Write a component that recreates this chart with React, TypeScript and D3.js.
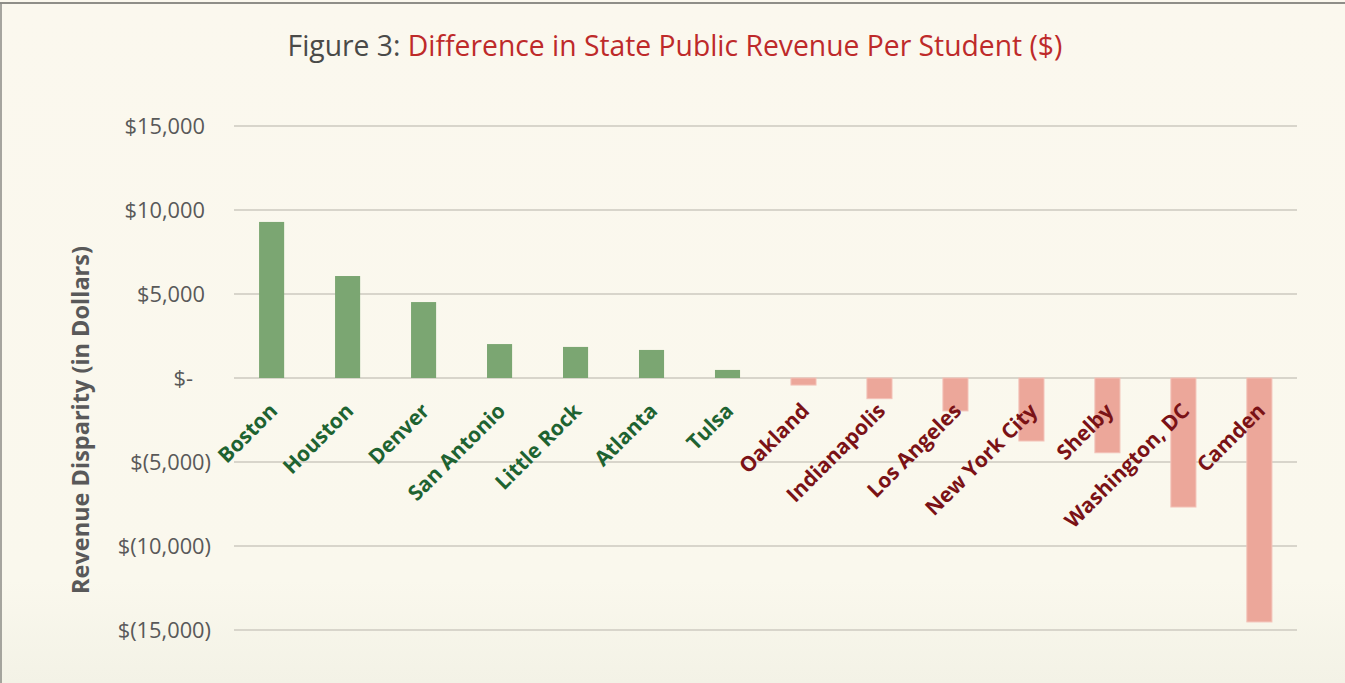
import React from "react";
import * as d3 from "d3";

const cities = ["Boston","Houston","Denver","San Antonio","Little Rock","Atlanta","Tulsa","Oakland","Indianapolis","Los Angeles","New York City","Shelby","Washington, DC","Camden"];
const disparity = [9290,6070,4520,2020,1850,1670,480,-420,-1230,-1960,-3750,-4450,-7680,-14520];
const yTicks = [15000,10000,5000,0,-5000,-10000,-15000];

const W = 1345, H = 683;
const M = { left: 234, right: 1297, top: 126, bottom: 630 };

function fmt(v: number) {
  if (v === 0) return "$-";
  const s = d3.format(",")(Math.abs(v));
  return v < 0 ? `$(${s})` : `$${s}`;
}

export default function App() {
  const x = d3.scaleBand<string>().domain(cities).range([M.left, M.right]).paddingInner(0.67).paddingOuter(0.33);
  const y = d3.scaleLinear().domain([-15000, 15000]).range([M.bottom, M.top]);
  const font = "'Open Sans', 'Noto Sans', sans-serif";
  return (
    <svg width={W} height={H} style={{ position: "absolute", left: 0, top: 0 }} fontFamily={font}>
      <defs>
        <linearGradient id="bg" x1="0" y1="0" x2="0" y2="1">
          <stop offset="0" stopColor="#FBF8EE" />
          <stop offset="0.85" stopColor="#FAF8ED" />
          <stop offset="1" stopColor="#F3F2E6" />
        </linearGradient>
      </defs>
      <rect x={0} y={0} width={W} height={H} fill="url(#bg)" />
      <line x1={0} x2={W} y1={3} y2={3} stroke="#6b6b66" strokeWidth={1.5} />
      <line x1={1} x2={1} y1={3} y2={H} stroke="#8a8a84" strokeWidth={1.5} />
      <text x={675} y={56} textAnchor="middle" fontSize={28.3} fill="#4a4a48">
        <tspan fill="#4a4a48">Figure 3: </tspan>
        <tspan fill="#BE2A2A">Difference in State Public Revenue Per Student ($)</tspan>
      </text>
      {yTicks.map(t => (
        <g key={t}>
          <line x1={M.left} x2={M.right} y1={y(t)} y2={y(t)} stroke="#D8D5CB" strokeWidth={2} />
          <text x={t === 0 ? 193 : t > 0 ? 205 : 211} y={y(t)} dy="0.35em" textAnchor="end" fontSize={21.8} fill="#595959">{fmt(t)}</text>
        </g>
      ))}
      {cities.map((c, i) => {
        const v = disparity[i];
        const pos = v >= 0;
        return (
          <rect key={c} x={x(c)} width={x.bandwidth()} y={y(Math.max(0, v))} height={Math.abs(y(v) - y(0))}
            fill={pos ? "#7BA672" : "#ECA79A"} stroke={pos ? "none" : "#F3C2B8"} strokeWidth={1} />
        );
      })}
      {cities.map((c, i) => {
        const cx = (x(c) as number) + x.bandwidth() / 2 + 2;
        const cy = 407;
        return (
          <text key={c} transform={`translate(${cx},${cy}) rotate(-45)`} textAnchor="end" dy="0.35em"
            fontSize={21} fontWeight={700} fill={disparity[i] >= 0 ? "#1E6331" : "#7A1216"}>{c}</text>
        );
      })}
      <text transform={`translate(89,420) rotate(-90)`} textAnchor="middle" fontSize={23.5} fontWeight={700} fill="#595959">
        Revenue Disparity (in Dollars)
      </text>
    </svg>
  );
}
